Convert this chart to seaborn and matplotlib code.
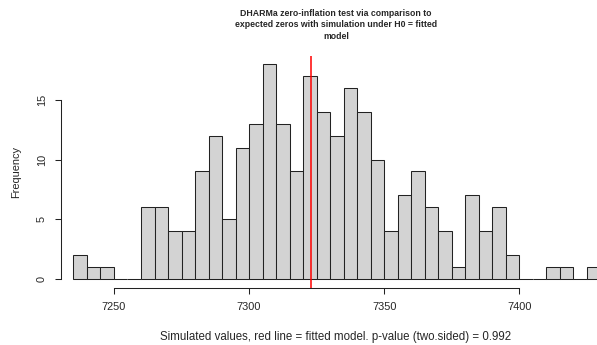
import numpy as np
import pandas as pd
import matplotlib
matplotlib.use("Agg")
import matplotlib.pyplot as plt
import seaborn as sns

# ---- data ----
bin_start = 7235
bin_width = 5
counts = [2, 1, 1, 0, 0, 6, 6, 4, 4, 9, 12, 5, 11, 13, 18, 13, 9, 17, 14,
          12, 16, 14, 10, 4, 7, 9, 6, 4, 1, 7, 4, 6, 2, 0, 0, 1, 1, 0, 1]
observed = 7322.9
x_ticks = [7250, 7300, 7350, 7400]
y_ticks = [0, 5, 10, 15]
title = ("DHARMa zero-inflation test via comparison to\n"
         "expected zeros with simulation under H0 = fitted\nmodel")
xlabel = "Simulated values, red line = fitted model. p-value (two.sided) = 0.992"
ylabel = "Frequency"

edges = [bin_start + i * bin_width for i in range(len(counts) + 1)]
centers = [e + bin_width / 2 for e in edges[:-1]]
df = pd.DataFrame({"value": centers, "count": counts})

sns.set_style("white")
plt.rcParams["font.family"] = ["Liberation Sans", "DejaVu Sans"]

W, H = 597, 345
fig = plt.figure(figsize=(W / 100, H / 100), dpi=100)
# plot region in pixels: left 61, right 611 (beyond image), top 55.5, bottom 287.5
ax = fig.add_axes([61 / W, (H - 287.5) / H, 550 / W, 232 / H])

sns.histplot(data=df, x="value", weights="count", bins=edges, ax=ax,
             color="#D3D3D3", edgecolor="#222222", linewidth=0.75, alpha=1.0,
             stat="count")
ax.axvline(observed, color="red", linewidth=1.1)

ax.set_xlim(7230.4, 7433.9)
ax.set_ylim(-0.72, 18.72)
ax.set_xticks(x_ticks)
ax.set_yticks(y_ticks)
ax.set_yticklabels([str(v) for v in y_ticks], rotation=90, va="center")

for s in ["top", "right"]:
    ax.spines[s].set_visible(False)
ax.spines["bottom"].set_bounds(x_ticks[0], x_ticks[-1])
ax.spines["left"].set_bounds(y_ticks[0], y_ticks[-1])
for s in ["bottom", "left"]:
    ax.spines[s].set_color("#222222")
    ax.spines[s].set_linewidth(0.75)

ax.tick_params(axis="both", which="major", direction="out", length=4.3,
               width=0.75, color="#222222", labelsize=7.9, pad=6,
               bottom=True, left=True)
ax.grid(False)

ax.set_xlabel(xlabel, fontsize=8.3, labelpad=14)
ax.set_ylabel(ylabel, fontsize=7.9, labelpad=11)

fig.text(336 / W, 1 - 8.5 / H, title, ha="center", va="top", fontsize=6.3,
         fontweight="bold", linespacing=1.42)

fig.savefig("out.png", dpi=100)
